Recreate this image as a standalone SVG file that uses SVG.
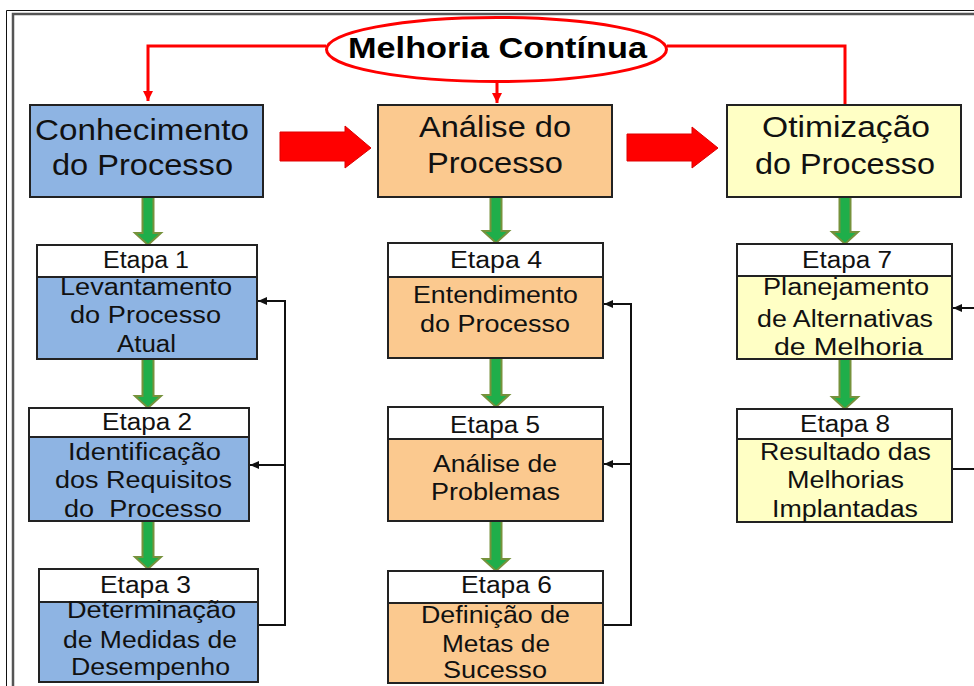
<svg xmlns="http://www.w3.org/2000/svg" width="974" height="686" viewBox="0 0 974 686">
<defs>
<style>
text{font-family:"Liberation Sans",Arial,sans-serif;fill:#111;text-anchor:middle}
.big{font-size:30px}
.hd{font-size:23px}
.bd{font-size:23px}
.box{stroke:#222;stroke-width:2}
.blue{fill:#8EB4E3}
.peach{fill:#FBC98F}
.yel{fill:#FFFFC5}
.hdr{fill:#fff;stroke:#222;stroke-width:2}
.green{fill:#1FAE4A;stroke:#76923C;stroke-width:2}
.red{fill:none;stroke:#f00;stroke-width:3}
.fb{fill:none;stroke:#111;stroke-width:2}
.blk{fill:#f00;stroke:#d00;stroke-width:1}
</style>
<marker id="ra" markerUnits="userSpaceOnUse" markerWidth="12" markerHeight="12" refX="10" refY="6" orient="auto"><path d="M0,1 L10,6 L0,11 Z" fill="#f00"/></marker>
<marker id="ba" markerUnits="userSpaceOnUse" markerWidth="10" markerHeight="10" refX="9" refY="5" orient="auto"><path d="M0,1 L9,5 L0,9 Z" fill="#111"/></marker>
</defs>
<rect width="974" height="686" fill="#fff"/>
<g id="frame">
<path d="M6.5,686 V10.5 H974" fill="none" stroke="#111" stroke-width="1"/>
<path d="M13,686 V14 H974" fill="none" stroke="#555" stroke-width="2.5"/>
</g>
<g id="connectors">
<path class="red" d="M326,46 H148 V101" marker-end="url(#ra)"/>
<path class="red" d="M667,46 H845 V105"/>
<path class="red" d="M497,82 V103" marker-end="url(#ra)"/>
<polygon class="blk" points="280,132 345,132 345,126 371,148 345,168 345,161 280,161"/>
<polygon class="blk" points="627,134 692,134 692,127 718,148 692,168 692,161 627,161"/>
<polygon class="green" points="142.5,197 153.5,197 153.5,233 161,233 148,245 135,233 142.5,233"/>
<polygon class="green" points="142.5,359 153.5,359 153.5,396 161,396 148,408 135,396 142.5,396"/>
<polygon class="green" points="142.5,521 153.5,521 153.5,557 161,557 148,569 135,557 142.5,557"/>
<polygon class="green" points="490.5,197 501.5,197 501.5,231 509,231 496,243 483,231 490.5,231"/>
<polygon class="green" points="490.5,358 501.5,358 501.5,395 509,395 496,407 483,395 490.5,395"/>
<polygon class="green" points="490.5,521 501.5,521 501.5,559 509,559 496,571 483,559 490.5,559"/>
<polygon class="green" points="839.5,197 850.5,197 850.5,232 858,232 845,244 832,232 839.5,232"/>
<polygon class="green" points="839.5,359 850.5,359 850.5,397 858,397 845,409 832,397 839.5,397"/>
<path class="fb" d="M258,625 H285 V301 H258" marker-end="url(#ba)"/>
<path class="fb" d="M285,465 H250" marker-end="url(#ba)"/>
<path class="fb" d="M603,625 H631 V304 H604" marker-end="url(#ba)"/>
<path class="fb" d="M631,464 H604" marker-end="url(#ba)"/>
<path class="fb" d="M974,308 H953" marker-end="url(#ba)"/>
<path class="fb" d="M952,469 H974"/>
</g>
<g id="melhoria">
<ellipse cx="496.5" cy="49.5" rx="170" ry="32" fill="#fff" stroke="#f00" stroke-width="3"/>
<text x="497.5" y="58" font-size="30" font-weight="bold" textLength="299" lengthAdjust="spacingAndGlyphs" style="fill:#000">Melhoria Contínua</text>
</g>
<g id="conhecimento">
<rect class="box blue" x="30" y="105" width="233" height="92"/>
<text class="big" x="142" y="140" textLength="214" lengthAdjust="spacingAndGlyphs">Conhecimento</text>
<text class="big" x="142.5" y="175" textLength="181" lengthAdjust="spacingAndGlyphs">do Processo</text>
</g>
<g id="analise">
<rect class="box peach" x="378" y="105" width="234" height="92"/>
<text class="big" x="495" y="137" textLength="152" lengthAdjust="spacingAndGlyphs">Análise do</text>
<text class="big" x="495" y="173" textLength="136" lengthAdjust="spacingAndGlyphs">Processo</text>
</g>
<g id="otimizacao">
<rect class="box yel" x="727" y="105" width="234" height="92"/>
<text class="big" x="846" y="137" textLength="168" lengthAdjust="spacingAndGlyphs">Otimização</text>
<text class="big" x="845" y="174" textLength="180" lengthAdjust="spacingAndGlyphs">do Processo</text>
</g>
<g id="etapa1">
<rect class="box blue" x="37" y="245" width="220" height="114"/>
<rect class="hdr" x="37" y="245" width="220" height="32"/>
<text class="hd" x="146" y="268" textLength="86" lengthAdjust="spacingAndGlyphs">Etapa 1</text>
<text class="bd" x="146" y="295" textLength="172" lengthAdjust="spacingAndGlyphs">Levantamento</text>
<text class="bd" x="145.5" y="323" textLength="151" lengthAdjust="spacingAndGlyphs">do Processo</text>
<text class="bd" x="146.5" y="352" textLength="59" lengthAdjust="spacingAndGlyphs">Atual</text>
</g>
<g id="etapa2">
<rect class="box blue" x="29" y="408" width="220" height="113"/>
<rect class="hdr" x="29" y="408" width="220" height="29"/>
<text class="hd" x="147" y="430" textLength="90" lengthAdjust="spacingAndGlyphs">Etapa 2</text>
<text class="bd" x="144.5" y="460" textLength="153" lengthAdjust="spacingAndGlyphs">Identificação</text>
<text class="bd" x="143.5" y="488" textLength="177" lengthAdjust="spacingAndGlyphs">dos Requisitos</text>
<text class="bd" x="143" y="517" textLength="158" lengthAdjust="spacingAndGlyphs" style="white-space:pre">do  Processo</text>
</g>
<g id="etapa3">
<rect class="box blue" x="39" y="569" width="219" height="113"/>
<rect class="hdr" x="39" y="569" width="219" height="33"/>
<text class="hd" x="145.5" y="593" textLength="91" lengthAdjust="spacingAndGlyphs">Etapa 3</text>
<text class="bd" x="151.5" y="618" textLength="169" lengthAdjust="spacingAndGlyphs">Determinação</text>
<text class="bd" x="150" y="648" textLength="174" lengthAdjust="spacingAndGlyphs">de Medidas de</text>
<text class="bd" x="150.5" y="675" textLength="159" lengthAdjust="spacingAndGlyphs">Desempenho</text>
</g>
<g id="etapa4">
<rect class="box peach" x="388" y="243" width="215" height="115"/>
<rect class="hdr" x="388" y="243" width="215" height="34"/>
<text class="hd" x="496" y="268" textLength="92" lengthAdjust="spacingAndGlyphs">Etapa 4</text>
<text class="bd" x="495.5" y="303" textLength="165" lengthAdjust="spacingAndGlyphs">Entendimento</text>
<text class="bd" x="495" y="332" textLength="150" lengthAdjust="spacingAndGlyphs">do Processo</text>
</g>
<g id="etapa5">
<rect class="box peach" x="388" y="407" width="215" height="114"/>
<rect class="hdr" x="388" y="407" width="215" height="32"/>
<text class="hd" x="495" y="433" textLength="90" lengthAdjust="spacingAndGlyphs">Etapa 5</text>
<text class="bd" x="495" y="472" textLength="124" lengthAdjust="spacingAndGlyphs">Análise de</text>
<text class="bd" x="495.5" y="500" textLength="129" lengthAdjust="spacingAndGlyphs">Problemas</text>
</g>
<g id="etapa6">
<rect class="box peach" x="388" y="571" width="215" height="112"/>
<rect class="hdr" x="388" y="571" width="215" height="32"/>
<text class="hd" x="506.5" y="593" textLength="91" lengthAdjust="spacingAndGlyphs">Etapa 6</text>
<text class="bd" x="495.5" y="623" textLength="149" lengthAdjust="spacingAndGlyphs">Definição de</text>
<text class="bd" x="496" y="652" textLength="108" lengthAdjust="spacingAndGlyphs">Metas de</text>
<text class="bd" x="495" y="678" textLength="104" lengthAdjust="spacingAndGlyphs">Sucesso</text>
</g>
<g id="etapa7">
<rect class="box yel" x="737" y="244" width="215" height="115"/>
<rect class="hdr" x="737" y="244" width="215" height="32"/>
<text class="hd" x="847" y="268" textLength="90" lengthAdjust="spacingAndGlyphs">Etapa 7</text>
<text class="bd" x="846" y="295" textLength="166" lengthAdjust="spacingAndGlyphs">Planejamento</text>
<text class="bd" x="845" y="327" textLength="176" lengthAdjust="spacingAndGlyphs">de Alternativas</text>
<text class="bd" x="848.5" y="355" textLength="149" lengthAdjust="spacingAndGlyphs">de Melhoria</text>
</g>
<g id="etapa8">
<rect class="box yel" x="737" y="409" width="215" height="113"/>
<rect class="hdr" x="737" y="409" width="215" height="30"/>
<text class="hd" x="845" y="432" textLength="90" lengthAdjust="spacingAndGlyphs">Etapa 8</text>
<text class="bd" x="845.5" y="460" textLength="171" lengthAdjust="spacingAndGlyphs">Resultado das</text>
<text class="bd" x="845.5" y="488" textLength="117" lengthAdjust="spacingAndGlyphs">Melhorias</text>
<text class="bd" x="845" y="517" textLength="146" lengthAdjust="spacingAndGlyphs">Implantadas</text>
</g>
</svg>
